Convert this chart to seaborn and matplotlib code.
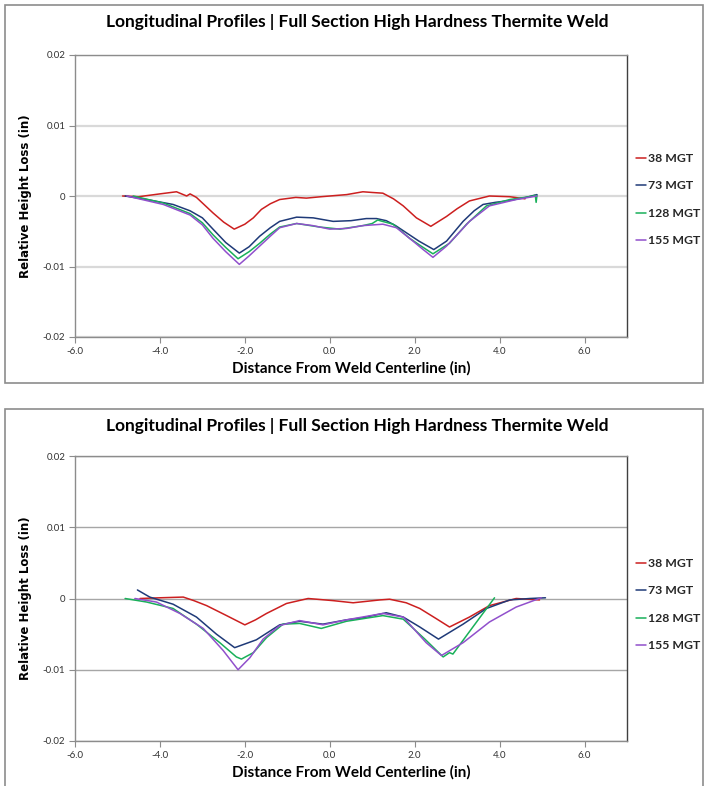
import matplotlib
matplotlib.use("Agg")
import matplotlib.pyplot as plt
from matplotlib.patches import Rectangle
from matplotlib.font_manager import FontProperties
import seaborn as sns
import pandas as pd

# series names and colours
series = ["38 MGT", "73 MGT", "128 MGT", "155 MGT"]
colors = ["#cc1f1f", "#1f3a78", "#19b05a", "#9150cc"]

# axis ticks
x_ticks = [-6.0, -4.0, -2.0, 0.0, 2.0, 4.0, 6.0]
x_tick_labels = ["-6.0", "-4.0", "-2.0", "0.0", "2.0", "4.0", "6.0"]
y_ticks = [0.02, 0.01, 0.0, -0.01, -0.02]
y_tick_labels = ["0.02", "0.01", "0", "-0.01", "-0.02"]

# ---- chart 1 (top) ----
t_x38 = [-4.88, -4.5, -4.0, -3.61, -3.45, -3.37, -3.29, -3.14, -2.75, -2.5, -2.25, -2.0, -1.80, -1.61,
         -1.4, -1.18, -0.8, -0.55, -0.2, 0.0, 0.4, 0.78, 1.0, 1.25, 1.5, 1.73, 2.04, 2.38, 2.75, 3.0,
         3.29, 3.76, 4.24, 4.6]
t_y38 = [0.0, -0.0001, 0.0003, 0.0006, 0.0002, 0.0, 0.0003, -0.0002, -0.0024, -0.0037, -0.0047, -0.0040,
         -0.0031, -0.0019, -0.0011, -0.0005, -0.0002, -0.0003, -0.0001, 0.0, 0.0002, 0.0006, 0.0005, 0.0004,
         -0.0004, -0.0014, -0.0031, -0.0043, -0.0029, -0.0018, -0.0007, 0.0, -0.0001, -0.0004]
t_x73 = [-4.82, -4.31, -3.69, -3.29, -3.0, -2.75, -2.45, -2.13, -1.9, -1.65, -1.4, -1.18, -0.78, -0.39,
         0.08, 0.5, 0.86, 1.1, 1.33, 1.55, 1.80, 2.1, 2.45, 2.75, 3.14, 3.4, 3.61, 3.9, 4.16, 4.55, 4.88]
t_y73 = [0.0, -0.0005, -0.0012, -0.0021, -0.0031, -0.0047, -0.0066, -0.0081, -0.0072, -0.0057, -0.0045,
         -0.0036, -0.0030, -0.0031, -0.0036, -0.0035, -0.0032, -0.0032, -0.0035, -0.0042, -0.0052, -0.0064,
         -0.0076, -0.0064, -0.0036, -0.0021, -0.0012, -0.0009, -0.0007, -0.0003, 0.0002]
t_x128 = [-4.63, -3.92, -3.29, -3.0, -2.75, -2.45, -2.16, -1.9, -1.65, -1.4, -1.18, -0.78, -0.24, 0.24,
          0.78, 1.0, 1.13, 1.18, 1.49, 1.88, 2.15, 2.43, 2.82, 3.22, 3.69, 4.24, 4.71, 4.84, 4.86, 4.88]
t_y128 = [0.0, -0.0010, -0.0025, -0.0038, -0.0055, -0.0073, -0.0089, -0.0079, -0.0067, -0.0054, -0.0044,
          -0.0039, -0.0044, -0.0047, -0.0042, -0.0039, -0.0034, -0.0035, -0.0040, -0.0060, -0.0071, -0.0082,
          -0.0067, -0.0040, -0.0014, -0.0005, -0.0001, 0.0001, -0.0009, 0.0001]
t_x155 = [-4.78, -3.92, -3.29, -3.0, -2.75, -2.45, -2.13, -1.9, -1.65, -1.4, -1.18, -0.78, -0.4, 0.0,
          0.4, 0.78, 1.25, 1.57, 1.96, 2.2, 2.43, 2.75, 3.0, 3.29, 3.76, 4.39, 4.88]
t_y155 = [0.0, -0.0012, -0.0027, -0.0041, -0.0060, -0.0079, -0.0097, -0.0085, -0.0071, -0.0057, -0.0045,
          -0.0039, -0.0042, -0.0047, -0.0046, -0.0042, -0.0040, -0.0045, -0.0064, -0.0076, -0.0087, -0.0071,
          -0.0055, -0.0036, -0.0014, -0.0005, 0.0]

# ---- chart 2 (bottom) ----
b_x38 = [-4.47, -4.0, -3.45, -3.2, -2.90, -2.43, -2.0, -1.75, -1.49, -1.02, -0.51, 0.08, 0.55, 1.18,
         1.41, 1.8, 2.12, 2.5, 2.82, 3.29, 3.76, 4.39, 4.94]
b_y38 = [0.0, 0.0001, 0.0002, -0.0003, -0.0010, -0.0024, -0.0037, -0.0030, -0.0021, -0.0007, 0.0, -0.0003,
         -0.0006, -0.0002, -0.0001, -0.0006, -0.0014, -0.0028, -0.0040, -0.0026, -0.0010, 0.0, -0.0002]
b_x73 = [-4.53, -4.24, -3.69, -3.14, -2.67, -2.24, -1.73, -1.18, -0.71, -0.16, 0.39, 0.78, 1.33, 1.73,
         2.12, 2.56, 3.14, 3.69, 4.24, 4.71, 5.08]
b_y73 = [0.0012, 0.0002, -0.0008, -0.0026, -0.0050, -0.0069, -0.0058, -0.0037, -0.0032, -0.0036, -0.0030,
         -0.0027, -0.0020, -0.0026, -0.0040, -0.0057, -0.0036, -0.0014, -0.0002, 0.0, 0.0001]
b_x128 = [-4.82, -4.31, -3.69, -3.14, -2.59, -2.2, -2.08, -1.80, -1.49, -1.10, -0.71, -0.2, 0.39, 1.25,
          1.73, 2.24, 2.67, 2.82, 2.90, 3.37, 3.88]
b_y128 = [0.0, -0.0005, -0.0014, -0.0036, -0.0062, -0.0082, -0.0085, -0.0076, -0.0055, -0.0036, -0.0035,
          -0.0042, -0.0032, -0.0024, -0.0029, -0.0057, -0.0082, -0.0076, -0.0078, -0.0040, 0.0001]
b_x155 = [-4.59, -4.08, -3.53, -2.98, -2.51, -2.16, -1.88, -1.57, -1.18, -0.71, -0.16, 0.39, 1.25, 1.73,
          2.27, 2.63, 3.14, 3.76, 4.39, 4.98]
b_y155 = [0.0, -0.0005, -0.0021, -0.0042, -0.0073, -0.0100, -0.0083, -0.0057, -0.0038, -0.0031, -0.0037,
          -0.0030, -0.0021, -0.0026, -0.0062, -0.0080, -0.0062, -0.0033, -0.0012, 0.0001]

title = "Longitudinal Profiles | Full Section High Hardness Thermite Weld"
xlabel = "Distance From Weld Centerline (in)"
ylabel = "Relative Height Loss (in)"


def make_df(xs, ys):
    rows = []
    for name, x, y in zip(series, xs, ys):
        for a, b in zip(x, y):
            rows.append({"x": a, "y": b, "series": name})
    return pd.DataFrame(rows)


top_df = make_df([t_x38, t_x73, t_x128, t_x155], [t_y38, t_y73, t_y128, t_y155])
bot_df = make_df([b_x38, b_x73, b_x128, b_x155], [b_y38, b_y73, b_y128, b_y155])

sns.set_theme(style="white")
plt.rcParams['font.family'] = ['Lato', 'DejaVu Sans']

W, H = 704, 786
fig = plt.figure(figsize=(W / 100, H / 100), dpi=100)


def fx(px):
    return px / W


def fy(py):
    return 1 - py / H


def draw_panel(df, box_top, box_bot, ax_top, ax_bot, grid_color, grid_lw, leg_y):
    # outer chart border
    fig.patches.append(Rectangle((fx(5), fy(box_bot)), fx(698), (box_bot - box_top) / H,
                                 transform=fig.transFigure, fill=False, edgecolor="#8c8c8c",
                                 linewidth=1.2))
    ax = fig.add_axes([fx(75), fy(ax_bot), fx(627 - 75), (ax_bot - ax_top) / H])
    sns.lineplot(data=df, x="x", y="y", hue="series", hue_order=series, palette=colors,
                 sort=False, estimator=None, linewidth=1.1, ax=ax, legend=True)
    ax.set_xlim(-6, 7)
    ax.set_ylim(-0.02, 0.02)
    ax.set_xticks(x_ticks)
    ax.set_xticklabels(x_tick_labels)
    ax.set_yticks(y_ticks)
    ax.set_yticklabels(y_tick_labels)
    ax.tick_params(axis="both", which="both", length=4, width=0.8, color="#8c8c8c",
                   labelsize=7, labelcolor="#333333", pad=3, direction="out",
                   bottom=True, left=True)
    ax.grid(axis="y", color=grid_color, linewidth=grid_lw)
    ax.grid(axis="x", visible=False)
    for side in ["left", "bottom", "top"]:
        ax.spines[side].set_color("#8c8c8c")
        ax.spines[side].set_linewidth(1.0)
    ax.spines["right"].set_color("#404040")
    ax.spines["right"].set_linewidth(1.0)
    ax.set_xlabel(xlabel, fontsize=11, fontweight="bold", color="black", labelpad=4)
    ax.set_ylabel(ylabel, fontsize=8.5, fontweight="bold", color="black", labelpad=8,
                  family="DejaVu Sans")
    fig.text(fx(357), fy(box_top + 17), title, ha="center", va="center", fontsize=12.5,
             fontweight="bold", color="black")
    handles, labels = ax.get_legend_handles_labels()
    ax.legend(handles, labels, loc="upper left", bbox_to_anchor=(fx(631), fy(leg_y)),
              bbox_transform=fig.transFigure, frameon=False, handlelength=0.8,
              handletextpad=0.2, labelspacing=1.35, borderaxespad=0,
              prop=FontProperties(family="Lato", weight="bold", size=8.8))
    return ax


draw_panel(top_df, 5, 383, 55, 337, "#d9d9d9", 1.6, 148)
draw_panel(bot_df, 409, 800, 456, 741, "#a6a6a6", 1.0, 553)

fig.savefig("out.png", dpi=100, facecolor="white")
